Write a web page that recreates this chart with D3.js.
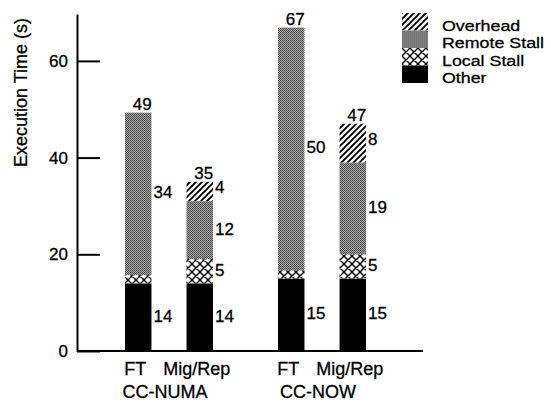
<!DOCTYPE html>
<html>
<head>
<meta charset="utf-8">
<script src="https://cdn.jsdelivr.net/npm/d3@7"></script>
<style>
  html, body { margin: 0; padding: 0; background: #fff; }
  svg { display: block; font-family: "Liberation Sans", Arial, Helvetica, sans-serif; }
  svg text { fill: #000; stroke: #000; stroke-width: 0.3px; }
</style>
</head>
<body>
<svg id="chart" width="551" height="402"></svg>
<script>
// ---- data ----
const groups = ["CC-NUMA", "CC-NOW"];
const configs = ["FT", "Mig/Rep"];
const otherTime = [14, 14, 15, 15];
const localStall = [1.7, 5, 1.7, 5];
const remoteStall = [33.6, 12, 50.2, 19];
const overhead = [0, 4, 0, 8];
const yTicks = [0, 20, 40, 60];
const seriesNames = ["Other", "Local Stall", "Remote Stall", "Overhead"];
const legendOrder = ["Overhead", "Remote Stall", "Local Stall", "Other"];
const yTitle = "Execution Time (s)";

// ---- build table ----
const rows = [];
groups.forEach((g, gi) => configs.forEach((c, ci) => {
  const i = gi * configs.length + ci;
  rows.push({ group: g, config: c, "Other": otherTime[i], "Local Stall": localStall[i],
              "Remote Stall": remoteStall[i], "Overhead": overhead[i] });
}));
rows.forEach(r => r.total = seriesNames.reduce((s, k) => s + r[k], 0));

const svg = d3.select("#chart");
const defs = svg.append("defs");

// patterns
const pRemote = defs.append("pattern").attr("id", "remote").attr("patternUnits", "userSpaceOnUse")
  .attr("width", 2).attr("height", 2);
pRemote.append("rect").attr("width", 2).attr("height", 2).attr("fill", "#a8a8a8");
pRemote.append("rect").attr("width", 1).attr("height", 1).attr("fill", "#444");
pRemote.append("rect").attr("x", 1).attr("y", 1).attr("width", 1).attr("height", 1).attr("fill", "#555");

const pLocal = defs.append("pattern").attr("id", "local").attr("patternUnits", "userSpaceOnUse")
  .attr("width", 8).attr("height", 8);
pLocal.append("rect").attr("width", 8).attr("height", 8).attr("fill", "#fff");
pLocal.append("path").attr("d", "M0,0 L8,8 M0,8 L8,0 M-1,7 L1,9 M7,-1 L9,1 M-1,1 L1,-1 M7,9 L9,7")
  .attr("stroke", "#000").attr("stroke-width", 1.4);

const pOver = defs.append("pattern").attr("id", "over").attr("patternUnits", "userSpaceOnUse")
  .attr("width", 6).attr("height", 6);
pOver.append("rect").attr("width", 6).attr("height", 6).attr("fill", "#fff");
pOver.append("path").attr("d", "M0,6 L6,0 M-1.5,1.5 L1.5,-1.5 M4.5,7.5 L7.5,4.5")
  .attr("stroke", "#000").attr("stroke-width", 1.9);

const fills = { "Other": "#000", "Local Stall": "url(#local)", "Remote Stall": "url(#remote)", "Overhead": "url(#over)" };

// ---- scales ----
const y = d3.scaleLinear().domain([0, 69.7]).range([351, 14]);
const xg = d3.scaleBand().domain(groups).range([125, 366]).paddingInner(0.425).paddingOuter(0);
const xc = d3.scaleBand().domain(configs).range([0, xg.bandwidth()]).paddingInner(0.57).paddingOuter(0);
const barX = r => xg(r.group) + xc(r.config);
const bw = xc.bandwidth();

// ---- stacked bars ----
const stack = d3.stack().keys(seriesNames)(rows);
const gBars = svg.append("g");
stack.forEach(layer => {
  gBars.selectAll(null).data(layer.filter(d => d[1] > d[0])).enter().append("rect")
    .attr("x", d => barX(d.data))
    .attr("y", d => y(d[1]))
    .attr("width", bw)
    .attr("height", d => y(d[0]) - y(d[1]))
    .attr("fill", fills[layer.key]);
});

// ---- value labels ----
const fmt = d3.format(".0f");
const gLab = svg.append("g").attr("font-size", 17);
stack.forEach(layer => {
  const shown = layer.filter(d => (d[1] - d[0]) >= 3);
  gLab.selectAll(null).data(shown).enter().append("text")
    .attr("x", d => barX(d.data) + bw + 2)
    .attr("y", d => (y(d[0]) + y(d[1])) / 2 - (layer.key === "Overhead" ? 4 : 1))
    .attr("dominant-baseline", "central")
    .text(d => fmt(d[1] - d[0]));
});
gLab.selectAll(null).data(rows).enter().append("text")
  .attr("x", d => barX(d) + bw / 2 + 4)
  .attr("y", d => y(d.total) - 3)
  .attr("text-anchor", "middle")
  .text(d => fmt(d.total));

// ---- axes ----
const yAxis = d3.axisLeft(y).tickValues(yTicks).tickSizeInner(-23).tickSizeOuter(0).tickPadding(9);
const gy = svg.append("g").attr("transform", "translate(77,0)").call(yAxis);
gy.select(".domain").attr("stroke", "#000").attr("stroke-width", 2);
gy.selectAll(".tick line").attr("stroke", "#000").attr("stroke-width", 2);
gy.selectAll(".tick text").attr("font-size", 17)
  .attr("font-family", "'Liberation Sans', Arial, Helvetica, sans-serif");

svg.append("line").attr("x1", 77).attr("x2", 423).attr("y1", y(0)).attr("y2", y(0))
  .attr("stroke", "#000").attr("stroke-width", 2);

svg.append("text")
  .attr("transform", `translate(27,${(y(0) + y(69.7)) / 2 - 90}) rotate(-90)`)
  .attr("text-anchor", "middle").attr("font-size", 18).text(yTitle);

// category labels
const gCat = svg.append("g").attr("font-size", 18).attr("text-anchor", "middle");
gCat.selectAll(null).data(rows).enter().append("text")
  .attr("x", d => barX(d) + bw / 2 - 3)
  .attr("y", 375)
  .text(d => d.config);
gCat.selectAll(null).data(groups).enter().append("text")
  .attr("x", d => xg(d) + xg.bandwidth() / 2 - 4)
  .attr("y", 398)
  .text(d => d);

// ---- legend ----
const gLeg = svg.append("g").attr("transform", "translate(402,13)");
const rowH = 17.5;
const li = gLeg.selectAll(null).data(legendOrder).enter().append("g")
  .attr("transform", (d, i) => `translate(0,${i * rowH})`);
li.append("rect").attr("width", 26).attr("height", rowH).attr("fill", d => fills[d]);
li.append("text").attr("transform", `translate(40,${rowH}) scale(1.15,1)`)
  .attr("font-size", 15.5).text(d => d);
</script>
</body>
</html>
